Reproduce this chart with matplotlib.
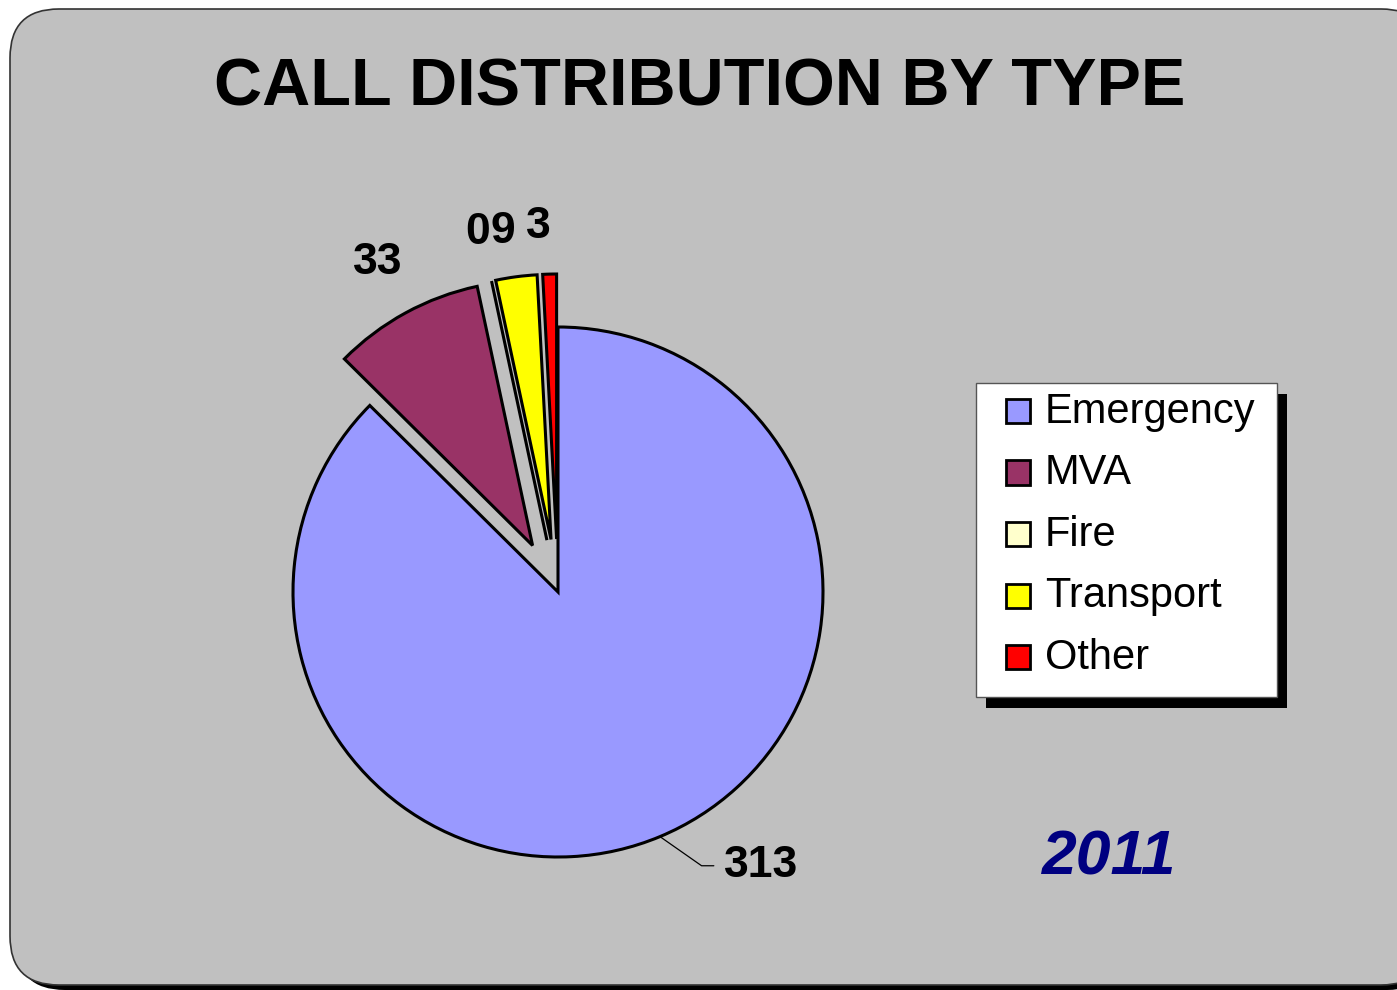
import numpy as np
import matplotlib
matplotlib.use('Agg')
import matplotlib.pyplot as plt
from matplotlib.patches import FancyBboxPatch, Rectangle

# chart data
categories = ['Emergency', 'MVA', 'Fire', 'Transport', 'Other']
calls = [313, 33, 0, 9, 3]
colors = ['#9999FF', '#993366', '#FFFFCC', '#FFFF00', '#FF0000']
explode = [0, 0.2, 0.2, 0.2, 0.2]
title = 'CALL DISTRIBUTION BY TYPE'
year = '2011'

W, H = 1397, 990
plt.rcParams['font.family'] = ['Liberation Sans', 'DejaVu Sans']

fig = plt.figure(figsize=(W / 100, H / 100), dpi=100)
fig.patch.set_facecolor('white')

def fx(px):
    return px / W

def fy(py):
    return 1 - py / H

# rounded grey panel with black drop shadow
shadow = FancyBboxPatch((fx(16), fy(990)), fx(1420), fy(15) - fy(990),
                        boxstyle='round,pad=0,rounding_size=0.035',
                        transform=fig.transFigure, facecolor='black',
                        edgecolor='none', mutation_aspect=W / H, zorder=-3)
fig.patches.append(shadow)
panel = FancyBboxPatch((fx(10), fy(985)), fx(1420), fy(9) - fy(985),
                       boxstyle='round,pad=0,rounding_size=0.035',
                       transform=fig.transFigure, facecolor='#C0C0C0',
                       edgecolor='#333333', linewidth=1.2,
                       mutation_aspect=W / H, zorder=-2)
fig.patches.append(panel)

fig.text(fx(700), fy(89), title, ha='center', va='center',
         fontsize=48, fontweight='bold', color='black')

# pie axes: centre at (558, 592) px, radius 265 px
R = 265
half = 1.5
cx, cy = 558, 592
ax = fig.add_axes([fx(cx - half * R), fy(cy + half * R),
                   2 * half * R / W, 2 * half * R / H])
ax.set_zorder(2)

wedges, _ = ax.pie(calls, colors=colors, explode=explode, startangle=90,
                   counterclock=False,
                   wedgeprops=dict(edgecolor='black', linewidth=2.2))
for w in wedges:
    w.set_clip_on(False)
ax.set_xlim(-half, half)
ax.set_ylim(-half, half)
ax.set_aspect('equal')
ax.axis('off')

# value labels
lab_r = [1.0, 1.415, 1.39, 1.375, 1.38]
lab_adj = [0, 0, 0.6, 1.2, 1.5]
for w, v, r, adj in zip(wedges, calls, lab_r, lab_adj):
    mid = np.deg2rad((w.theta1 + w.theta2) / 2 + adj)
    if v == calls[0]:
        ex, ey = np.cos(mid) * 1.0, np.sin(mid) * 1.0
        ax.annotate(str(v), xy=(ex, ey), xytext=(ex + 0.24, ey - 0.11),
                    ha='left', va='center', fontsize=32, fontweight='bold',
                    arrowprops=dict(arrowstyle='-', color='black', lw=0.9,
                                    shrinkA=5, shrinkB=0,
                                    connectionstyle='angle,angleA=0,angleB=-35,rad=0',
                                    relpos=(0, 0.5)),
                    annotation_clip=False)
    else:
        ax.text(np.cos(mid) * r, np.sin(mid) * r, str(v), ha='center',
                va='center', fontsize=32, fontweight='bold')

# legend with shadow
lx0, ly0, lx1, ly1 = 976, 383, 1277, 697
fig.patches.append(Rectangle((fx(lx0 + 10), fy(ly1 + 11)), fx(lx1 - lx0),
                             fy(ly0) - fy(ly1), transform=fig.transFigure,
                             facecolor='black', edgecolor='none'))
fig.patches.append(Rectangle((fx(lx0), fy(ly1)), fx(lx1 - lx0),
                             fy(ly0) - fy(ly1), transform=fig.transFigure,
                             facecolor='white', edgecolor='#555555',
                             linewidth=1))
for i, (name, col) in enumerate(zip(categories, colors)):
    yy = 411 + i * 61.5
    fig.patches.append(Rectangle((fx(1006), fy(yy + 12)), fx(24),
                                 fy(yy - 12) - fy(yy + 12),
                                 transform=fig.transFigure, facecolor=col,
                                 edgecolor='black', linewidth=2))
    fig.text(fx(1045), fy(yy + 1), name, ha='left', va='center', fontsize=30)

fig.text(fx(1109), fy(858), year, ha='center', va='center', fontsize=45,
         fontweight='bold', fontstyle='italic', color='#000080')

fig.savefig('out.png', dpi=100)
